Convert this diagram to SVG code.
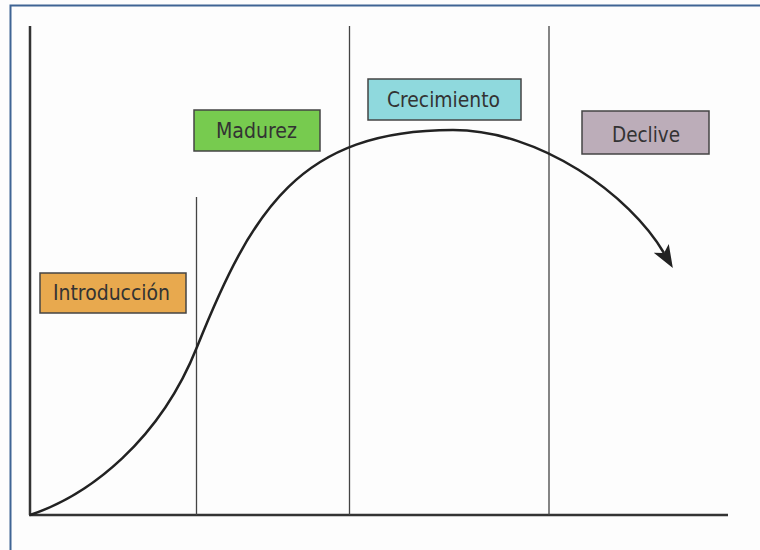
<svg xmlns="http://www.w3.org/2000/svg" width="760" height="550" viewBox="0 0 760 550">
<style>
.lbl{font-family:"DejaVu Sans Condensed","Liberation Sans",sans-serif;font-stretch:condensed;font-size:21px;fill:#333;text-anchor:middle}
.box{stroke:#444;stroke-width:1.5}
.axis{stroke:#333;stroke-width:2.5;fill:none}
.vl{stroke:#444;stroke-width:1.3;fill:none}
</style>
<defs>
<marker id="ah" markerUnits="userSpaceOnUse" markerWidth="24" markerHeight="20" viewBox="0 0 22 16" refX="5" refY="8" orient="auto">
<path d="M0,0 L21,8 L0,16 L5,8 Z" fill="#222"/>
</marker>
</defs>
<rect x="0" y="0" width="760" height="550" fill="#fdfdfd"/>
<rect x="10.5" y="5.5" width="760" height="560" fill="none" stroke="#3f6494" stroke-width="2"/>
<g id="connectors">
<line class="axis" x1="30" y1="26" x2="30" y2="515"/>
<line class="axis" x1="29" y1="515" x2="728" y2="515"/>
<line class="vl" x1="196.5" y1="197" x2="196.5" y2="515"/>
<line class="vl" x1="349.5" y1="26" x2="349.5" y2="515"/>
<line class="vl" x1="549" y1="26" x2="549" y2="515"/>
<path d="M30,515 C90,495 160,440 197,347 C252,210 300,130 453,130 C540,130 630,195 664,253" fill="none" stroke="#222" stroke-width="2.5" marker-end="url(#ah)"/>
</g>
<g id="introduccion">
<rect class="box" x="40" y="273" width="146" height="40" fill="#e8a94e"/>
<text class="lbl" x="111.5" y="299.5" textLength="117" lengthAdjust="spacingAndGlyphs">Introducción</text>
</g>
<g id="madurez">
<rect class="box" x="194" y="110" width="126" height="41" fill="#77cb4f"/>
<text class="lbl" x="256.5" y="137.5" textLength="81" lengthAdjust="spacingAndGlyphs">Madurez</text>
</g>
<g id="crecimiento">
<rect class="box" x="368" y="79" width="153" height="41" fill="#8fd9dd"/>
<text class="lbl" x="443.5" y="107" textLength="113" lengthAdjust="spacingAndGlyphs">Crecimiento</text>
</g>
<g id="declive">
<rect class="box" x="582" y="111" width="127" height="43" fill="#bcadb9"/>
<text class="lbl" x="646" y="142" textLength="68" lengthAdjust="spacingAndGlyphs">Declive</text>
</g>
</svg>
